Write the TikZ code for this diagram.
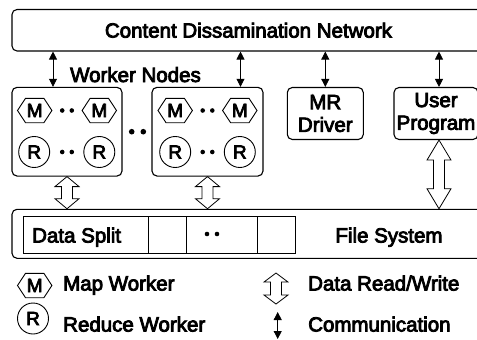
\documentclass[tikz,border=0pt]{standalone}
\usepackage{fontspec}
\setmainfont{Liberation Sans}[BoldFont={Liberation Sans}, BoldFeatures={FakeBold=4}]
\usetikzlibrary{arrows.meta,calc}
\newcommand\hexnode[3]{%
  \node[hexn] (#1) at (#2) {#3};
  \draw[thinline] (#1.west) -- ([xshift=8pt]#1.north west) -- ([xshift=-8pt]#1.north east)
    -- (#1.east) -- ([xshift=-8pt]#1.south east) -- ([xshift=8pt]#1.south west) -- cycle;}
\begin{document}
\begin{tikzpicture}[x=1pt,y=-1pt,
  font=\bfseries\fontsize{20.5}{22.7}\selectfont,
  box/.style={draw, line width=1.1pt, rounded corners=5pt, inner sep=0pt},
  cell/.style={draw, line width=0.9pt, inner sep=0pt, minimum height=37pt, anchor=west},
  thinline/.style={draw, line width=0.9pt},
  hexn/.style={inner sep=0pt, minimum width=34pt, minimum height=24pt, font=\bfseries\fontsize{19}{19}\selectfont},
  rnode/.style={circle, draw, line width=0.9pt, inner sep=0pt, minimum size=31pt, font=\bfseries\fontsize{19}{19}\selectfont},
  lbl/.style={anchor=base west, inner sep=0pt},
  comm/.style={line width=0.8pt, {Triangle[length=8pt,width=8pt]}-{Triangle[length=8pt,width=8pt]}},
  hollow/.style={draw, fill=white, line width=0.8pt, to path={
    let \p1=(\tikztostart), \p2=(\tikztotarget) in
    (\x1,\y1) -- (\x1+12pt,\y1-#1) -- (\x1+5.5pt,\y1-#1) -- (\x1+5.5pt,\y2+#1) -- (\x1+12pt,\y2+#1)
    -- (\x2,\y2) -- (\x1-12pt,\y2+#1) -- (\x1-5.5pt,\y2+#1) -- (\x1-5.5pt,\y1-#1) -- (\x1-12pt,\y1-#1) -- cycle}}
]
\useasboundingbox (0,0) rectangle (477,340);
\clip (0,0) rectangle (477,340);

% network
\node[box, minimum width=473pt, minimum height=41.5pt] (cdn) at (248.5,30.25) {Content Dissamination Network};
\node[anchor=base, inner sep=0pt] (wn) at (135.5,82) {Worker Nodes};

% worker boxes
\node[box, minimum width=110pt, minimum height=88.7pt] (w1) at (67,131.7) {};
\node[box, minimum width=111pt, minimum height=88.7pt] (w2) at (207.5,131.7) {};
\hexnode{m11}{34.7,110.5}{M}
\hexnode{m12}{99.3,110.5}{M}
\node[rnode] (r11) at (34.2,152) {R};
\node[rnode] (r12) at (99.3,152) {R};
\hexnode{m21}{175.2,110.5}{M}
\hexnode{m22}{239.8,110.5}{M}
\node[rnode] (r21) at (175.2,152) {R};
\node[rnode] (r22) at (239.8,152) {R};
\foreach \x in {62.2,71.8,202.7,212.3} {
  \fill (\x,110.5) circle (2.3pt);
  \fill (\x,152) circle (2.3pt);
}
\fill (131.7,131.7) circle (2.8pt);
\fill (143.3,131.7) circle (2.8pt);

% driver and user program
\node[box, minimum width=76pt, minimum height=52pt, align=center] (mr) at (325.3,113.5) {MR\\Driver};
\node[box, minimum width=84pt, minimum height=52pt, align=center] (up) at (436,113.5) {User\\Program};

% file system
\node[box, minimum width=473pt, minimum height=49pt] (fs) at (248.5,233.8) {};
\node[cell, minimum width=125pt] (c1) at (23,234.6) {};
\node[cell, minimum width=38pt] (c2) at (148,234.6) {};
\node[cell, minimum width=71pt] (c3) at (186,234.6) {};
\node[cell, minimum width=38pt] (c4) at (257,234.6) {};
\node[lbl] (dst) at (32,242.5) {Data Split};
\fill (207,234) circle (2.3pt);
\fill (217,234) circle (2.3pt);
\node[anchor=base, inner sep=0pt] (fst) at (389,242.5) {File System};

% communication arrows
\draw[comm] ([xshift=-14pt]w1.north |- cdn.south) -- ([xshift=-14pt]w1.north);
\draw[comm] ([xshift=33pt]w2.north |- cdn.south) -- ([xshift=33pt]w2.north);
\draw[comm] (mr.north |- cdn.south) -- (mr.north);
\draw[comm] ([xshift=3pt]up.north |- cdn.south) -- ([xshift=3pt]up.north);

% data read/write arrows
\draw[hollow=10pt] (w1.south) to (w1.south |- fs.north);
\draw[hollow=10pt] (w2.south) to (w2.south |- fs.north);
\draw[hollow=20pt] ([xshift=3pt]up.south) to ([xshift=3pt]up.south |- fs.north);

% legend
\hexnode{lm}{34.7,285.5}{M}
\node[lbl] (lmt) at (63,290.5) {Map Worker};
\node[rnode] (lr) at (33,318.5) {R};
\node[lbl] (lrt) at (63,331.5) {Reduce Worker};
\coordinate (lh1) at (276,273);
\coordinate (lh2) at (276,304);
\draw[hollow=9pt] (lh1) to (lh2);
\node[lbl] (lht) at (308,290.5) {Data Read/Write};
\coordinate (lc1) at (277.7,312);
\coordinate (lc2) at (277.7,339);
\draw[comm] (lc1) -- (lc2);
\node[lbl] (lct) at (308,331.5) {Communication};
\end{tikzpicture}
\end{document}
